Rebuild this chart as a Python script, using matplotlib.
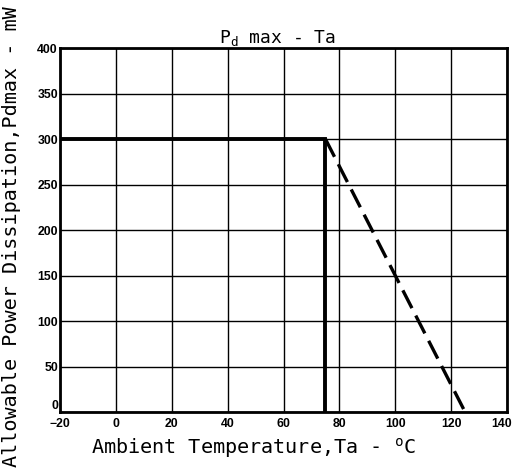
import matplotlib
matplotlib.use("Agg")
import matplotlib.pyplot as plt
import matplotlib.transforms as mtransforms

# Data
solid_ta = [-20, 75, 75]
solid_pd = [300, 300, 0]
derate_ta = [75, 125]
derate_pd = [300, 0]
x_ticks = [-20, 0, 20, 40, 60, 80, 100, 120, 140]
y_ticks = [0, 50, 100, 150, 200, 250, 300, 350, 400]

plt.rcParams['mathtext.fontset'] = 'custom'
plt.rcParams['mathtext.rm'] = 'DejaVu Sans Mono'

fig = plt.figure(figsize=(5.16, 4.76), dpi=100)
ax = fig.add_axes([60/516, 1-412/476, (507-60)/516, (412-48)/476])

ax.set_xlim(-20, 140)
ax.set_ylim(0, 400)
ax.set_xticks(x_ticks)
ax.set_yticks(y_ticks)
ax.grid(True, color='black', linewidth=1.0)
ax.set_axisbelow(True)
for s in ax.spines.values():
    s.set_linewidth(2.0)
    s.set_color('black')

ax.tick_params(axis='y', length=0, pad=1.5)
ax.tick_params(axis='x', length=0, pad=4)
for lab in ax.get_xticklabels() + ax.get_yticklabels():
    lab.set_fontfamily(['Liberation Sans', 'DejaVu Sans'])
    lab.set_fontweight('bold')
    lab.set_fontsize(8.8)
# "0" on the y axis sits slightly above the corner in the reference
ax.get_yticklabels()[0].set_verticalalignment('bottom')
# keep the last x tick label inside the figure
last = ax.get_xticklabels()[-1]
last.set_transform(last.get_transform() + mtransforms.ScaledTranslation(-5/100, 0, fig.dpi_scale_trans))

ax.plot(solid_ta, solid_pd, color='black', linewidth=2.8, solid_joinstyle='miter')
ax.plot(derate_ta, derate_pd, color='black', linewidth=2.4, linestyle=(0, (6, 2.5)))

ax.set_xlabel('Ambient Temperature,Ta - $^{\\rm o}$C', fontfamily='DejaVu Sans Mono',
              fontsize=14.5, labelpad=2)
ax.xaxis.set_label_coords(0.432, -0.065)
ax.set_ylabel('Allowable Power Dissipation,Pdmax - mW', fontfamily='DejaVu Sans Mono',
              fontsize=14.5)
ax.yaxis.set_label_coords(-0.088, 0.483)
ax.set_title('P$_{\\rm d}$ max - Ta', fontfamily='DejaVu Sans Mono', fontsize=13, pad=2)
ax.title.set_position((0.487, 1.0))

fig.savefig('out.png', dpi=100)
